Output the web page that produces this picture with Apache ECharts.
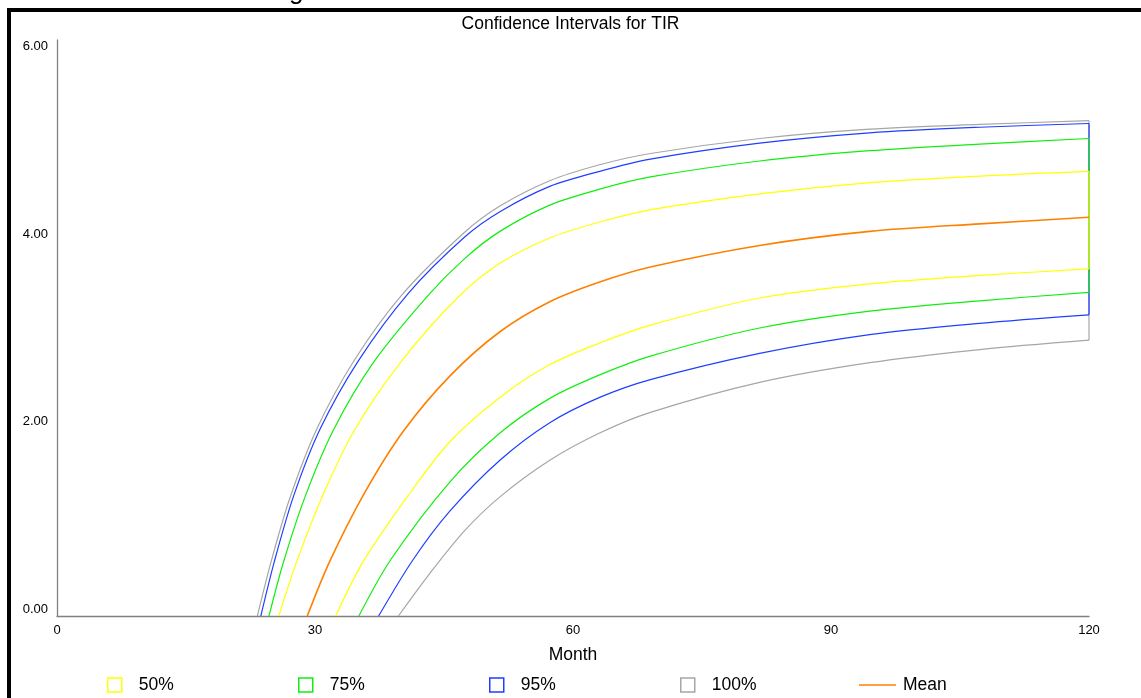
<!DOCTYPE html>
<html>
<head>
<meta charset="utf-8">
<script src="https://cdn.jsdelivr.net/npm/echarts@6/dist/echarts.min.js"></script>
<style>
html,body{margin:0;padding:0;background:#fff;}
#chart{width:1141px;height:698px;}
</style>
</head>
<body>
<div id="chart"></div>
<script>
// ---- data: [month, value] ----
const chartTitle = 'Confidence Intervals for TIR';
const xName = 'Month';
const xTicks = [0, 30, 60, 90, 120];
const yTicks = [0, 2, 4, 6];
const meanName = 'Mean';

const hi100 = [[23.3,0],[24.96,0.60],[27.09,1.26],[30.19,1.99],[34.46,2.71],[40.08,3.42],[47.4,4.09],[51.5,4.37],[57.3,4.64],[63.1,4.81],[69,4.93],[81.7,5.09],[94.5,5.19],[107.3,5.24],[120,5.28]];
const lo100 = [[39.7,0],[43.4,0.46],[47.4,0.91],[51.5,1.27],[57.3,1.66],[63.1,1.95],[69,2.17],[81.7,2.49],[94.5,2.70],[107.3,2.84],[120,2.94]];
const hi95  = [[23.7,0],[25.27,0.58],[27.48,1.27],[30.58,1.99],[35.04,2.72],[40.85,3.44],[47.4,4.04],[51.5,4.31],[57.3,4.58],[63.1,4.74],[69,4.87],[81.7,5.04],[94.5,5.15],[107.3,5.21],[120,5.25]];
const lo95  = [[37.4,0],[41.4,0.60],[45.7,1.12],[51.5,1.66],[57.3,2.06],[63.1,2.33],[69,2.52],[81.7,2.80],[94.5,3.00],[107.3,3.12],[120,3.21]];
const hi75  = [[24.65,0],[26.32,0.57],[28.84,1.27],[32.13,1.98],[36.78,2.70],[43.18,3.42],[47.4,3.81],[51.5,4.10],[57.3,4.38],[63.1,4.55],[69,4.68],[81.7,4.85],[94.5,4.96],[107.3,5.03],[120,5.09]];
const lo75  = [[35.1,0],[38.8,0.60],[45.7,1.43],[51.5,1.95],[57.3,2.32],[63.1,2.57],[69,2.77],[81.7,3.07],[94.5,3.25],[107.3,3.36],[120,3.45]];
const hi50  = [[25.8,0],[27.87,0.58],[30.97,1.30],[34.65,1.99],[40.08,2.72],[46.66,3.40],[51.5,3.76],[57.3,4.03],[63.1,4.20],[69,4.33],[81.7,4.50],[94.5,4.62],[107.3,4.69],[120,4.74]];
const lo50  = [[32.4,0],[35.6,0.58],[40.8,1.28],[45.7,1.86],[51.5,2.33],[57.3,2.68],[63.1,2.91],[69,3.10],[81.7,3.39],[94.5,3.54],[107.3,3.63],[120,3.70]];
const meanLine = [[29.1,0],[31.7,0.58],[35.81,1.32],[40.27,1.97],[45.7,2.56],[51.5,3.03],[57.3,3.35],[63.1,3.56],[69,3.72],[81.7,3.95],[94.5,4.10],[107.3,4.18],[120,4.25]];

const bandColors = {'100%':'#a6a6a6','95%':'#1f3fff','75%':'#10ee10','50%':'#ffff00'};
const meanColor = '#ff8000';
const bands = [
  {name:'100%', hi:hi100, lo:lo100},
  {name:'95%',  hi:hi95,  lo:lo95},
  {name:'75%',  hi:hi75,  lo:lo75},
  {name:'50%',  hi:hi50,  lo:lo50}
];

const FONT = "'Liberation Sans', Arial, sans-serif";
const SMOOTH = 0.3;
const series = [];
bands.forEach(b => {
  const c = bandColors[b.name];
  const common = {type:'line', name:b.name, showSymbol:false, symbol:'none', smooth:SMOOTH,
    lineStyle:{color:c, width:1.2}, itemStyle:{color:c}, silent:true};
  series.push(Object.assign({data:b.hi}, common));
  series.push(Object.assign({data:b.lo}, common));
  const endHi = b.hi[b.hi.length-1], endLo = b.lo[b.lo.length-1];
  series.push(Object.assign({}, common, {smooth:false, data:[[endLo[0], endLo[1]],[endHi[0], endHi[1]]]}));
});
series.push({type:'line', name:meanName, data:meanLine, showSymbol:false, symbol:'none', smooth:SMOOTH,
  lineStyle:{color:meanColor, width:1.6}, itemStyle:{color:meanColor}, silent:true});

const legendLefts = {'50%':107, '75%':298, '95%':489, '100%':680};
const legends = ['50%','75%','95%','100%'].map(n => ({
  left: legendLefts[n], top: 676, padding: 0, orient:'horizontal',
  itemWidth: 14, itemHeight: 14, selectedMode:false,
  textStyle: {fontSize:17.5, color:'#000', fontFamily:FONT, padding:[0,0,0,12], lineHeight:14},
  data: [{name:n, icon:'rect', itemStyle:{color:'#ffffff', borderColor:bandColors[n], borderWidth:1.5}}]
}));
legends.push({
  left: 859, top: 676, padding: 0, itemWidth: 37, itemHeight: 14, selectedMode:false,
  textStyle: {fontSize:17.5, color:'#000', fontFamily:FONT, padding:[0,0,0,2], lineHeight:14},
  data: [{name:meanName, icon:'path://M0 0 H37 V1.5 H0 Z', itemStyle:{color:meanColor, borderWidth:0}}]
});

const chart = echarts.init(document.getElementById('chart'), null, {renderer:'canvas'});
chart.setOption({
  animation:false,
  backgroundColor:'#ffffff',
  textStyle:{fontFamily:FONT},
  title:{text:chartTitle, left:'center', top:10,
    textStyle:{fontSize:17.5, fontWeight:'normal', color:'#000', fontFamily:FONT}},
  graphic:[
    {type:'rect', shape:{x:9, y:10, width:1300, height:900}, style:{fill:'none', stroke:'#000', lineWidth:4}, z:100},
    {type:'text', x:289, y:5, style:{text:'g', fontSize:26, fill:'#000', font:"26px 'Liberation Sans', Arial, sans-serif", verticalAlign:'bottom'}, z:100}
  ],
  legend: legends,
  grid:{left:57, right:52, top:40, bottom:82, containLabel:false},
  xAxis:{type:'value', min:xTicks[0], max:xTicks[xTicks.length-1], interval:30,
    name:xName, nameLocation:'middle', nameGap:30,
    nameTextStyle:{fontSize:17.5, color:'#000', fontFamily:FONT},
    axisLine:{show:true, lineStyle:{color:'#808080', width:1.3}},
    axisTick:{show:false}, splitLine:{show:false},
    axisLabel:{fontSize:13, color:'#000', margin:8, fontFamily:FONT}},
  yAxis:{type:'value', min:0, max:6.14, interval:2,
    axisLine:{show:true, lineStyle:{color:'#808080', width:1.3}},
    axisTick:{show:false}, splitLine:{show:false},
    axisLabel:{fontSize:13, color:'#000', margin:9, verticalAlign:'bottom', showMaxLabel:false, fontFamily:FONT,
      formatter: v => (yTicks.indexOf(Math.round(v*100)/100) >= 0 ? v.toFixed(2) : '')}},
  series: series
});
</script>
</body>
</html>
